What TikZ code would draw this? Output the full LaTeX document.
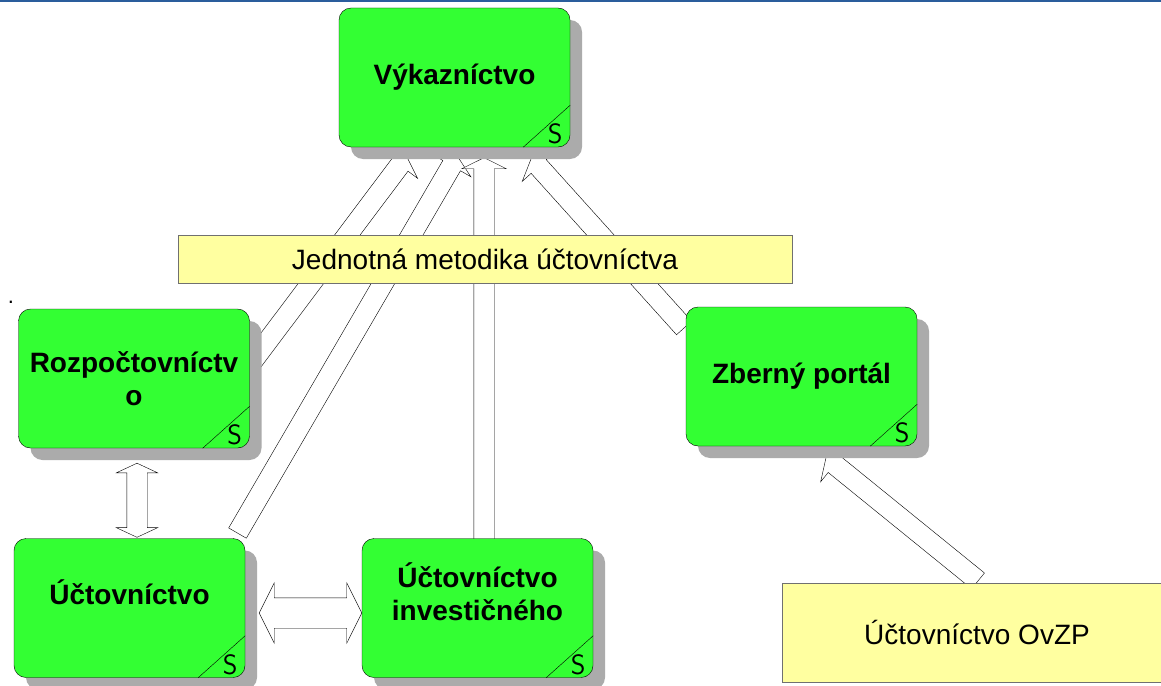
\documentclass[tikz,border=0pt]{standalone}
\usepackage{fontspec}
\setmainfont{Liberation Sans}
\usetikzlibrary{shapes.arrows,shadows,calc}
\definecolor{boxgreen}{HTML}{33FF33}
\definecolor{shadowgray}{HTML}{ABABAB}
\definecolor{noteyellow}{HTML}{FFFFA0}
\definecolor{noteline}{HTML}{707070}
\definecolor{topblue}{HTML}{2A5D9C}
\newcommand{\greenfont}{\fontsize{28}{33}\selectfont\bfseries}
\newcommand{\yellowfont}{\fontsize{28}{33}\selectfont}
\newcommand{\cornerfont}{\sffamily\fontsize{28}{28}\selectfont}
\pgfdeclarelayer{bg}
\pgfsetlayers{bg,main}
\newcommand{\blockarr}[3][onearrow]{%
  \path let \p1=($(#3)-(#2)$), \n1={veclen(\x1,\y1)}, \n2={atan2(\y1,\x1)} in
    node[#1,minimum height=\n1,rotate=\n2] at ($(#2)!.5!(#3)$) {};}

\begin{document}
\begin{tikzpicture}[x=1pt,y=-1pt,
    greenbox/.style={draw,fill=boxgreen,rounded corners=12pt,minimum width=231pt,minimum height=139pt,
      align=center,font=\greenfont,
      drop shadow={shadow xshift=12pt,shadow yshift=-12pt,fill=shadowgray,opacity=1}},
    boxtext/.style={align=center,font=\greenfont},
    notebox/.style={draw=noteline,line width=1pt,fill=noteyellow,font=\yellowfont},
    cornermark/.style={font=\cornerfont,inner sep=0pt},
    hollow/.style={draw,fill=white,inner xsep=0pt},
    onearrow/.style={hollow,single arrow,inner ysep=10pt,single arrow head extend=12pt,single arrow tip angle=127},
    twoarrow/.style={hollow,double arrow,inner ysep=10pt,double arrow head extend=10.5pt,double arrow tip angle=130},
    widearrow/.style={hollow,double arrow,inner ysep=15pt,double arrow head extend=15pt,double arrow tip angle=127}]
  \useasboundingbox (0,0) rectangle (1161,685);
  \clip (0,0) rectangle (1161,685);
  \fill[topblue] (0,0) rectangle (1161,2.5);
  \node[greenbox] (vyk) at (454.5,77.5) {Výkazníctvo};
  \node[greenbox] (roz) at (134,378.5) {Rozpočtovníctv\\o};
  \node[greenbox] (uct) at (129.5,608) {};
  \node[greenbox] (inv) at (477.5,608) {};
  \node[greenbox] (zbe) at (801.5,376.5) {Zberný portál};
  \node[boxtext] (uct text) at ([yshift=16pt]uct.center) {Účtovníctvo};
  \node[boxtext] (inv text) at ([yshift=16pt]inv.center) {Účtovníctvo\\investičného};
  \foreach \b in {vyk,roz,uct,inv,zbe}{
    \draw ([xshift=-47pt]\b.south east) -- ([yshift=42pt]\b.south east);
    \node[cornermark] (\b s) at ([shift={(-15pt,13pt)}]\b.south east) {S};
  }
  \node[notebox,minimum width=614pt,minimum height=48pt] (jed) at (485,259) {Jednotná metodika účtovníctva};
  \node[notebox,minimum width=390pt,minimum height=99pt] (ovz) at (977,632.5) {Účtovníctvo OvZP};
  \node[font=\fontsize{22}{22}\selectfont] (dot) at (11,302) {.};
  \begin{pgfonlayer}{bg}
    \blockarr{[yshift=13.5pt]roz.east}{[shift={(-49.5pt,-11pt)}]vyk.south}
    \blockarr{[shift={(-9pt,3pt)}]uct.north east}{[shift={(1.5pt,-11pt)}]vyk.south}
    \blockarr{[shift={(6.5pt,-7pt)}]inv.north}{[shift={(29.5pt,-13pt)}]vyk.south}
    \blockarr{[yshift=-23pt]zbe.north west}{[shift={(78.5pt,-13pt)}]vyk.south}
    \blockarr{[xshift=198.5pt]ovz.north west}{[shift={(26.5pt,-13pt)}]zbe.south}
    \blockarr[twoarrow]{[shift={(3pt,-15pt)}]roz.south}{[shift={(7.5pt,1pt)}]uct.north}
    \blockarr[widearrow]{[shift={(14pt,-5pt)}]uct.east}{[yshift=-5pt]inv.west}
  \end{pgfonlayer}
\end{tikzpicture}
\end{document}
